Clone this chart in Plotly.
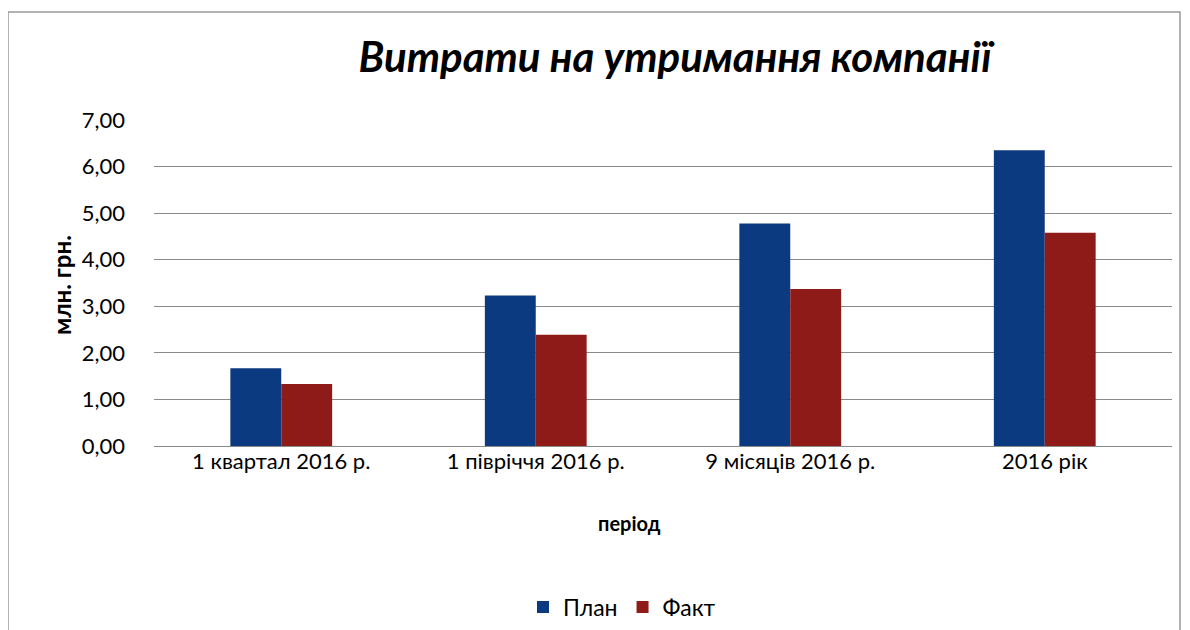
import plotly.graph_objects as go

categories = ["1 квартал 2016 р.", "1 півріччя 2016 р.", "9 місяців 2016 р.", "2016 рік"]
plan = [1.67, 3.23, 4.78, 6.35]
fact = [1.33, 2.39, 3.37, 4.58]
y_ticks = [0, 1, 2, 3, 4, 5, 6, 7]

FONT = "Lato"

# the page body has an 8px margin, so the figure origin sits at (8, 8) on screen
OFF = 8
W, H = 1190 - 2 * OFF, 630 - OFF
# plot-area geometry in screen pixels
L, R, T, B = 154, 1172, 120, 446
PW, PH = R - L, B - T


def px(x):
    return (x - L) / PW


def py(y):
    return (B - y) / PH


fig = go.Figure()
fig.add_trace(go.Bar(name="План", x=categories, y=plan, marker=dict(color="#0C3A80", line=dict(width=0))))
fig.add_trace(go.Bar(name="Факт", x=categories, y=fact, marker=dict(color="#8E1B17", line=dict(width=0))))

fig.update_layout(
    width=W, height=H,
    separators=", ",
    barmode="group", bargap=0.6, bargroupgap=0,
    paper_bgcolor="white", plot_bgcolor="white",
    margin=dict(l=L - OFF, r=W - (R - OFF), t=T - OFF, b=H - (B - OFF), autoexpand=False),
    font=dict(family=FONT, color="black", size=20),
    title=dict(text="<b><i>Витрати на утримання компанії</i></b>", x=(675 - OFF) / W, xanchor="center",
               y=1 - (57 - OFF) / H, yanchor="middle", font=dict(family=FONT, size=42, color="black")),
    showlegend=True,
    legend=dict(orientation="h", x=px(622), xanchor="center", y=py(607), yanchor="middle",
                font=dict(size=23), traceorder="normal"),
    xaxis=dict(showgrid=False, showline=False, ticks="", tickfont=dict(size=22), automargin=False),
    yaxis=dict(range=[0, 7], tickvals=y_ticks, tickformat=".2f", showgrid=True,
               gridcolor="#8a8a8a", gridwidth=1.4, zeroline=True, zerolinecolor="#8a8a8a",
               zerolinewidth=1.4, showline=False, ticks="", ticklabelstandoff=28,
               tickfont=dict(size=22), automargin=False),
    annotations=[
        dict(text="<b>період</b>", x=px(629), y=py(523), xref="paper", yref="paper",
             showarrow=False, xanchor="center", yanchor="middle", font=dict(size=20)),
        dict(text="<b>млн. грн.</b>", x=px(61), y=py(285), xref="paper", yref="paper",
             showarrow=False, xanchor="center", yanchor="middle", textangle=-90, font=dict(size=24)),
    ],
    shapes=[dict(type="rect", xref="paper", yref="paper",
                 x0=px(8), x1=px(1180), y0=py(660), y1=py(12),
                 line=dict(color="#9a9a9a", width=1.5), fillcolor="rgba(0,0,0,0)", layer="below")],
)

fig.write_html("out.html")
